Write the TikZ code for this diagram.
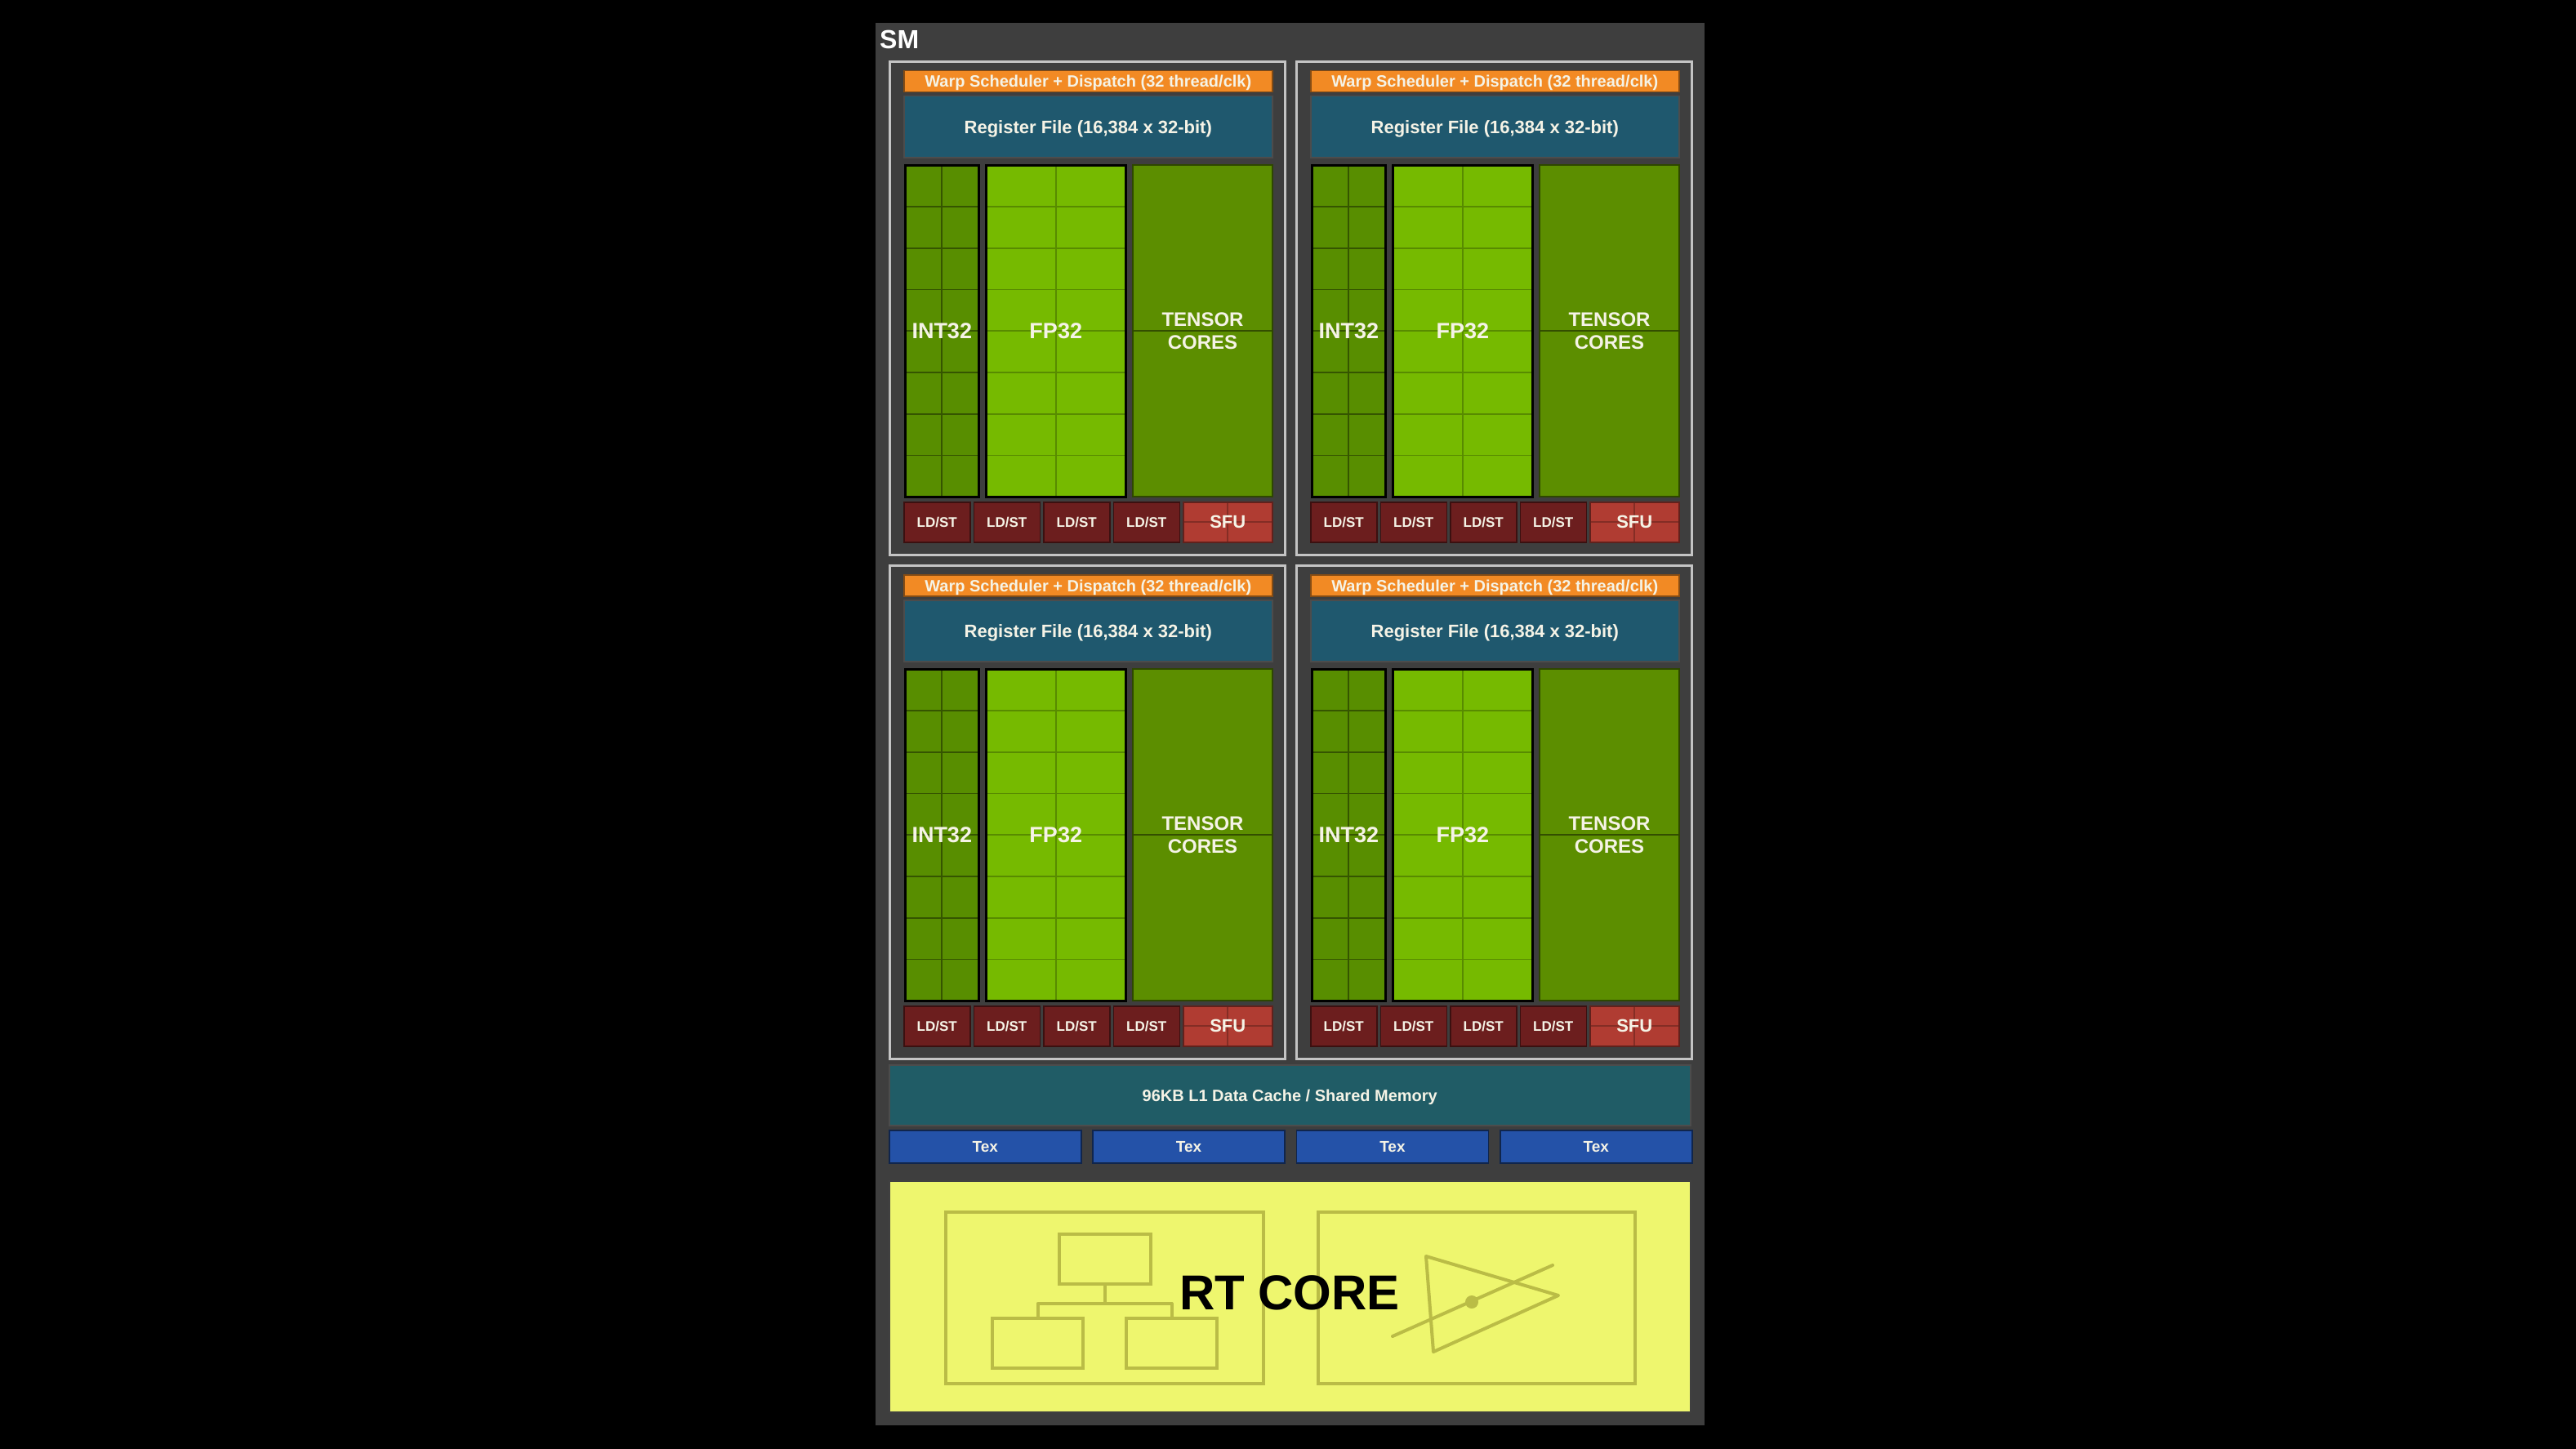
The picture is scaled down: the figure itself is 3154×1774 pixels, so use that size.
\documentclass[tikz,border=0pt]{standalone}
\usepackage{fontspec}
\setmainfont{Liberation Sans}
\usepackage{tikz}
\usetikzlibrary{calc}
\usepackage{tkz-euclide}

\definecolor{smgray}{RGB}{62,62,62}
\definecolor{quadline}{RGB}{196,196,196}
\definecolor{warporange}{RGB}{242,138,36}
\definecolor{regteal}{RGB}{31,88,110}
\definecolor{cacheteal}{RGB}{32,92,102}
\definecolor{intgreen}{RGB}{88,142,0}
\definecolor{fpgreen}{RGB}{118,186,0}
\definecolor{tcgreen}{RGB}{92,142,0}
\definecolor{ldstred}{RGB}{108,30,30}
\definecolor{sfured}{RGB}{176,60,50}
\definecolor{texblue}{RGB}{36,82,168}
\definecolor{rtyellow}{RGB}{238,246,110}
\definecolor{iconolive}{RGB}{186,188,70}
\definecolor{labelwhite}{RGB}{245,243,230}

\begin{document}
\begin{tikzpicture}[x=1pt, y=-1pt,
                blk/.style={anchor=north west, inner sep=0pt, text=labelwhite, line width=1.5pt, text depth=0pt},
                cellline/.style={line width=1.6pt, draw=#1},
                cells/.style={path picture={
                    \foreach \r in {1,...,7}
                        \draw[cellline=#1] ($(path picture bounding box.north west)!\r/8!(path picture bounding box.south west)$) -- ($(path picture bounding box.north east)!\r/8!(path picture bounding box.south east)$);
                    \draw[cellline=#1] (path picture bounding box.north) -- (path picture bounding box.south);}},
                midline/.style={path picture={
                    \draw[cellline=#1] (path picture bounding box.west) -- (path picture bounding box.east);}},
                halves/.style={path picture={
                    \draw[cellline=#1] (path picture bounding box.west) -- (path picture bounding box.east);
                    \draw[cellline=#1] (path picture bounding box.north) -- (path picture bounding box.south);}},
                quad/.style={anchor=north west, inner sep=0pt, draw=quadline, fill=smgray, line width=3pt, minimum width=484, minimum height=604},
                warp/.style={blk, draw=warporange!55!black, fill=warporange, minimum width=451, minimum height=26, font=\bfseries\fontsize{20}{20}\selectfont},
                regfile/.style={blk, draw=black!70, fill=regteal, minimum width=451, minimum height=75, font=\bfseries\fontsize{22}{22}\selectfont},
                intunit/.style={blk, draw=black, line width=2.5pt, fill=intgreen, cells=intgreen!60!black, minimum width=90, minimum height=406, font=\bfseries\fontsize{27}{27}\selectfont},
                fpunit/.style={blk, draw=black, line width=2.5pt, fill=fpgreen, cells=fpgreen!75!black, minimum width=171, minimum height=406, font=\bfseries\fontsize{27}{27}\selectfont},
                tcunit/.style={anchor=north west, inner sep=0pt, text=labelwhite, draw=tcgreen!50!black, line width=2pt, fill=tcgreen, midline=tcgreen!55!black, minimum width=171, minimum height=406, align=center, font=\bfseries\fontsize{24}{28}\selectfont},
                ldst/.style={blk, draw=ldstred!55!black, fill=ldstred, minimum width=81, minimum height=49, font=\bfseries\fontsize{17}{17}\selectfont},
                sfu/.style={blk, draw=sfured!55!black, fill=sfured, halves=sfured!75!black, minimum width=109, minimum height=49, font=\bfseries\fontsize{22}{22}\selectfont},
                cache/.style={blk, draw=black!70, fill=cacheteal, minimum width=981, minimum height=74, font=\bfseries\fontsize{20}{20}\selectfont},
                tex/.style={blk, draw=texblue!45!black, fill=texblue, minimum width=235, minimum height=40, font=\bfseries\fontsize{19}{19}\selectfont},
                rtcore/.style={anchor=north west, inner sep=0pt, draw=black!75, line width=2pt, fill=rtyellow, minimum width=981, minimum height=283},
                iconbox/.style={anchor=north west, inner sep=0pt, draw=iconolive, line width=4pt},
                iconline/.style={draw=iconolive, line width=4pt, line join=round}]
                \fill[black] (0,0) rectangle (3154,1774);
                \useasboundingbox (0,0) rectangle (3154,1774);
                \fill[smgray] (1072,28) rectangle (2087,1745);
                \node[anchor=base west, inner sep=0pt, text=white, font=\bfseries\fontsize{32}{32}\selectfont] (sm) at (1077,60) {SM};
                \foreach \q/\qx/\qy in {1/1088/74, 2/1586/74, 3/1088/691, 4/1586/691}{
                    \begin{scope}[shift={(\qx,\qy)}]
                        \node[quad] (quad-\q) at (0,0) {};
                        \node[warp] (warp-\q) at (18,12) {Warp Scheduler + Dispatch (32 thread/clk)};
                        \node[regfile] (reg-\q) at (18,43) {Register File (16,384 x 32-bit)};
                        \node[intunit] (int-\q) at (19,127) {INT32};
                        \node[fpunit] (fp-\q) at (118,127) {FP32};
                        \node[tcunit] (tc-\q) at (298,127) {TENSOR\\CORES};
                        \foreach \j in {0,...,3}
                            \node[ldst] (ldst-\q-\j) at ({18+85.5*\j},540) {LD/ST};
                        \node[sfu] (sfu-\q) at (360,540) {SFU};
                    \end{scope}
                }
                \node[cache] (l1) at (1088,1303) {96KB L1 Data Cache / Shared Memory};
                \foreach \k in {0,...,3}
                    \node[tex] (tex-\k) at ({1088+249.33*\k},1383) {Tex};
                \node[rtcore] (rt) at (1088,1445) {};
                \node[iconbox, minimum width=389, minimum height=210] (bvhframe) at (1156,1482) {};
                \node[iconbox, minimum width=388, minimum height=210] (triframe) at (1612,1482) {};
                \node[iconbox, minimum width=112, minimum height=61] (bvhroot) at (1295,1509) {};
                \node[iconbox, minimum width=111, minimum height=61] (bvhleft) at (1213,1612) {};
                \node[iconbox, minimum width=111, minimum height=61] (bvhright) at (1377,1612) {};
                \draw[iconline] (bvhroot.south) -- ++(0,22) -| (bvhleft.north);
                \draw[iconline] (bvhroot.south) -- ++(0,22) -| (bvhright.north);
                \tkzDefPoints{1746/1538/P, 1908/1586/Q, 1755/1655/R, 1705/1636/S, 1901/1549/T}
                \tkzDrawPolygon[iconline](P,Q,R)
                \tkzDrawSegment[iconline](S,T)
                \fill[iconolive] (1802,1594) circle (8);
                \node[inner sep=0pt, text depth=0pt, font=\bfseries\fontsize{60}{60}\selectfont] (rtlabel) at (1579,1583) {RT CORE};
            \end{tikzpicture}
\end{document}
